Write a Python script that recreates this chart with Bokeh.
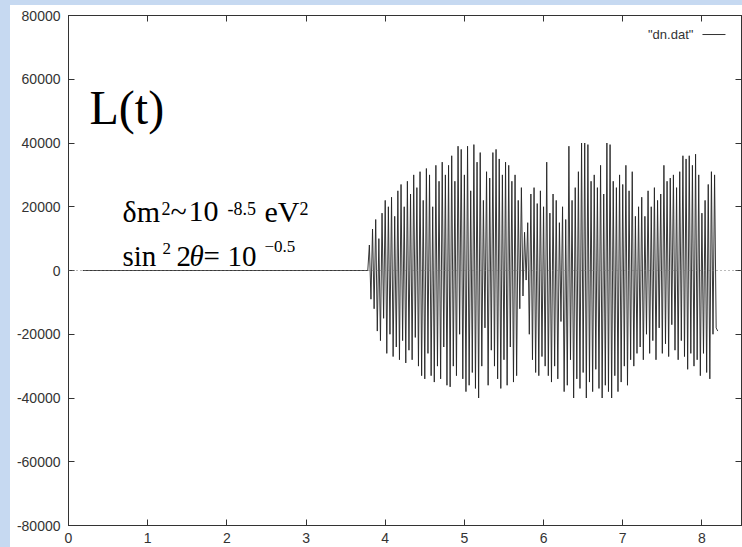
from bokeh.plotting import figure
from bokeh.models import Span, Label, LinearAxis, FixedTicker, Range1d, Spacer
from bokeh.layouts import column, row
from bokeh.embed import file_html
from bokeh.resources import INLINE

# ---------------- data ----------------
x_ticks = [0, 1, 2, 3, 4, 5, 6, 7, 8]
y_ticks = [-80000, -60000, -40000, -20000, 0, 20000, 40000, 60000, 80000]

flat_t = [0.18, 3.78]
flat_v = [0, 0]

osc_t0 = 3.80
osc_dt = 0.02
osc_v = [
    8000, -9000, 13000, -12000, 16000, -19000, 10000, -22000, 18000, -15000,
    22000, -26000, 20000, -20000, 23000, -27000, 17000, -24000, 25000, -28000,
    27000, -22000, 20000, -29000, 28000, -25000, 24000, -28000, 30000, -21000,
    26000, -30000, 31000, -33000, 22000, -34000, 32000, -26000, 30000, -33000,
    20000, -35000, 33000, -30000, 28000, -34000, 34000, -24000, 30000, -36000,
    33000, -36500, 36000, -30000, 28000, -33000, 39000, -20000, 38000, -34000,
    30000, -38000, 39000, -36000, 25000, -32000, 39500, -37000, 34000, -40000,
    37000, -30000, 22000, -18000, 31000, -36000, 29000, -25000, 37000, -30000,
    38000, -34000, 35000, -37000, 30000, -28000, 34000, -36000, 33000, -24000,
    28000, -35000, 30000, -33000, 22000, -12000, 26000, -8000, 12000, -3000,
    15000, -20000, 24000, -28000, 26000, -32000, 21000, -33000, 25000, -27000,
    20000, -30000, 34000, -33000, 18000, -35000, 24000, -30000, 22000, -34000,
    15000, -16000, 20000, -38000, 16000, -36000, 39000, -28000, 22000, -40000,
    26000, -34000, 31000, -37000, 40000, -32000, 40000, -40000, 39500, -35000,
    28000, -38000, 30000, -31000, 26000, -37000, 33000, -40000, 24000, -36000,
    40000, -38000, 39500, -40000, 28000, -33000, 26000, -38000, 30000, -35000,
    27000, -30000, 33000, -36000, 25000, -28000, 31000, -30000, 17000, -26000,
    20000, -24000, 23000, -28000, 17000, -20000, 25000, -26000, 20000, -22000,
    26000, -28000, 22000, -18000, 24000, -26000, 33000, -23000, 28000, -27000,
    29000, -17000, 30000, -25000, 26000, -28000, 31000, -22000, 36000, -27000,
    35000, -31000, 36000, -26000, 33000, -30000, 36500, -28000, 30000, -33000,
    18000, -26000, 22000, -32000, 27000, -34000, 31000, -20000, 30000, -18000,
    -19000,
]

series_name = '"dn.dat"'

t = flat_t + [round(osc_t0 + i * osc_dt, 4) for i in range(len(osc_v))]
v = flat_v + osc_v

# ---------------- figure ----------------
BG = "#c6d9f1"
AX = "#333333"
X0, X1 = 0, 8.5
Y0, Y1 = -80000, 80000

p = figure(width=732, height=542, x_range=Range1d(X0, X1), y_range=Range1d(Y0, Y1),
           output_backend="svg", toolbar_location=None,
           min_border_left=58, min_border_right=1, min_border_top=10, min_border_bottom=22)
p.grid.visible = False
p.outline_line_color = AX
p.outline_line_width = 1
p.background_fill_color = "white"
p.border_fill_color = "white"

def style_axis(ax, ticks, show_labels, standoff):
    ax.ticker = FixedTicker(ticks=ticks)
    ax.major_tick_in = 6
    ax.major_tick_out = 0
    ax.minor_tick_in = 0
    ax.minor_tick_out = 0
    ax.axis_line_color = AX
    ax.major_tick_line_color = AX
    if show_labels:
        ax.major_label_text_font = "Liberation Sans"
        ax.major_label_text_font_size = "14px"
        ax.major_label_text_color = "#333333"
        ax.major_label_standoff = standoff
        ax.major_label_overrides = {tk: str(tk) for tk in ticks}
    else:
        ax.major_label_text_font_size = "0px"
        ax.major_label_standoff = 0
        ax.major_label_overrides = {tk: "" for tk in ticks}

style_axis(p.xaxis[0], x_ticks, True, 7)
style_axis(p.yaxis[0], y_ticks, True, 8)

top_ax = LinearAxis()
style_axis(top_ax, x_ticks, False, 0)
p.add_layout(top_ax, "above")
right_ax = LinearAxis()
style_axis(right_ax, y_ticks, False, 0)
p.add_layout(right_ax, "right")

# zero line (dotted)
p.add_layout(Span(location=0, dimension="width", line_color="#777777",
                  line_dash="1 3", line_width=1))

# data
p.line(t, v, line_color="#222222", line_width=0.9)

# legend (gnuplot style: text then line sample)
leg_y = Y1 - (Y1 - Y0) * 0.0373
leg_x_text = X1 - (X1 - X0) * 0.0715
p.add_layout(Label(x=leg_x_text, y=leg_y, text=series_name, text_align="right",
                   text_baseline="middle", text_font="Liberation Sans",
                   text_font_size="13px", text_color="#333333"))
p.line([X1 - (X1 - X0) * 0.0580, X1 - (X1 - X0) * 0.0238], [leg_y, leg_y],
       line_color="#333333", line_width=1)

# annotation texts
def px2x(px):
    return (px - 68) / (673 / 8.5)

def py2y(py):
    return (270 - py) * (160000 / 510)

SERIF = "Liberation Serif"

def lab(txt, px, py, size, style="normal"):
    py_eff = py - 0.42 * size
    p.add_layout(Label(x=px2x(px), y=py2y(py_eff), text=txt, text_font=SERIF,
                       text_font_size=f"{size}px", text_color="black",
                       text_baseline="alphabetic", text_align="left",
                       text_font_style=style))

lab("L(t)", 89, 127, 48)

lab("δm", 122, 224, 30)
lab("2", 161, 216, 18)
lab("~", 170, 224, 30)
lab("10", 188, 224, 30)
lab("-8.5", 227, 216, 18)
lab("eV", 264, 224, 30)
lab("2", 299, 216, 18)

lab("sin", 122, 268, 29)
lab("2", 162, 255, 17)
lab("2", 176, 268, 29)
lab("θ", 189, 268, 29, "italic")
lab("=", 203, 268, 29)
lab("10", 227, 268, 29)
lab("−0.5", 264, 253, 17)

# light-blue slide background strips
top_strip = Spacer(width=742, height=5, styles={"background-color": BG})
left_strip = Spacer(width=10, height=542, styles={"background-color": BG})
layout = column(top_strip, row(left_strip, p, spacing=0), spacing=0)

open("out.html", "w").write(file_html(layout, INLINE))
